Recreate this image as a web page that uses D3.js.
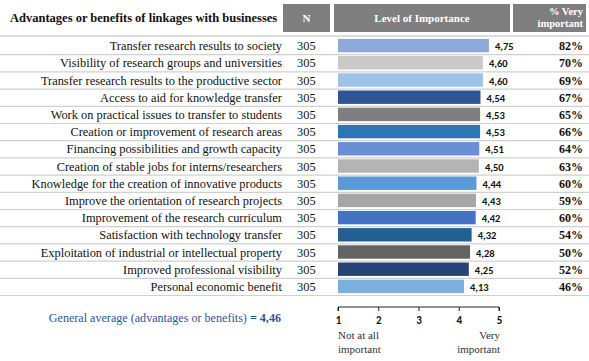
<!DOCTYPE html>
<html><head><meta charset="utf-8">
<script src="https://cdn.jsdelivr.net/npm/d3@7"></script>
<style>body{margin:0;background:#fff}svg{display:block}</style>
</head><body>
<svg id="c" width="589" height="361"></svg>
<script>
const categories = [
  "Transfer research results to society",
  "Visibility of research groups and universities",
  "Transfer research results to the productive sector",
  "Access to aid for knowledge transfer",
  "Work on practical issues to transfer to students",
  "Creation or improvement of research areas",
  "Financing possibilities and growth capacity",
  "Creation of stable jobs for interns/researchers",
  "Knowledge for the creation of innovative products",
  "Improve the orientation of research projects",
  "Improvement of the research curriculum",
  "Satisfaction with technology transfer",
  "Exploitation of industrial or intellectual property",
  "Improved professional visibility",
  "Personal economic benefit"
];
const nValues = [305,305,305,305,305,305,305,305,305,305,305,305,305,305,305];
const importance = [4.75,4.60,4.60,4.54,4.53,4.53,4.51,4.50,4.44,4.43,4.42,4.32,4.28,4.25,4.13];
const pctVery = [82,70,69,67,65,66,64,63,60,59,60,54,50,52,46];
const barColors = ["#8eaadb","#c9c9c9","#9dc3e6","#2f5597","#7f7f7f","#2e75b6","#6a8fd4","#b4b4b4","#5b9bd5","#a6a6a6","#4472c4","#255e91","#636363","#264478","#7aafdf"];
const tickValues = [1,2,3,4,5];
const generalAverage = 4.46;

const svg = d3.select("#c");
const serif = "'Liberation Serif','Times New Roman',serif";
const sans = "Carlito,'Liberation Sans',Arial,sans-serif";
const fmt = v => d3.format(".2f")(v).replace(".", ",");

const x = d3.scaleLinear().domain([1,5]).range([338,499]);
const y = d3.scaleBand().domain(d3.range(categories.length)).range([37,295]).paddingInner(0.22).paddingOuter(0.11);
const rowY = d3.scaleBand().domain(d3.range(categories.length)).range([37,295]);

// header
svg.append("text").attr("x",10).attr("y",22).attr("font-family",serif).attr("font-weight","bold")
  .attr("font-size",12.5).attr("fill","#111").text("Advantages or benefits of linkages with businesses");
const hdr = [{x0:283,x1:330,t:["N"]},{x0:334,x1:510,t:["Level of Importance"]},{x0:513,x1:586,t:["% Very","important"]}];
hdr.forEach(h=>{
  svg.append("rect").attr("x",h.x0).attr("y",4).attr("width",h.x1-h.x0).attr("height",28).attr("fill","#7f7f7f");
  if(h.t.length===1){
    svg.append("text").attr("x",(h.x0+h.x1)/2).attr("y",22).attr("text-anchor","middle").attr("font-family",serif)
      .attr("font-weight","bold").attr("font-size",11).attr("fill","#fff").text(h.t[0]);
  } else {
    h.t.forEach((s,i)=>svg.append("text").attr("x",h.x1-3).attr("y",15+i*12).attr("text-anchor","end").attr("font-family",serif)
      .attr("font-weight","bold").attr("font-size",10.5).attr("fill","#fff").text(s));
  }
});
svg.append("line").attr("x1",0).attr("x2",589).attr("y1",36).attr("y2",36).attr("stroke","#bbb").attr("stroke-width",1);

// row lines
svg.selectAll("line.row").data(d3.range(categories.length)).join("line").attr("class","row")
  .attr("x1",0).attr("x2",589).attr("y1",i=>rowY(i)+rowY.bandwidth()+0.5).attr("y2",i=>rowY(i)+rowY.bandwidth()+0.5)
  .attr("stroke","#d0d0d0").attr("stroke-width",1.2);

// labels
svg.selectAll("text.cat").data(categories).join("text").attr("class","cat")
  .attr("x",282).attr("y",(d,i)=>rowY(i)+rowY.bandwidth()/2+4.5).attr("text-anchor","end")
  .attr("font-family",serif).attr("font-size",12.4).attr("fill","#111").text(d=>d);
svg.selectAll("text.n").data(nValues).join("text").attr("class","n")
  .attr("x",297).attr("y",(d,i)=>rowY(i)+rowY.bandwidth()/2+4.5)
  .attr("font-family",serif).attr("font-size",12.4).attr("fill","#111").text(d=>d);

// bars
svg.selectAll("rect.bar").data(importance).join("rect").attr("class","bar")
  .attr("x",x(1)).attr("y",(d,i)=>y(i)).attr("width",d=>x(d)-x(1)).attr("height",y.bandwidth())
  .attr("fill",(d,i)=>barColors[i]);
svg.selectAll("text.val").data(importance).join("text").attr("class","val")
  .attr("x",d=>x(d)+6).attr("y",(d,i)=>rowY(i)+rowY.bandwidth()/2+4.5)
  .attr("font-family",sans).attr("font-weight","bold").attr("font-size",10.5).attr("fill","#111").text(d=>fmt(d));
svg.selectAll("text.pct").data(pctVery).join("text").attr("class","pct")
  .attr("x",583).attr("y",(d,i)=>rowY(i)+rowY.bandwidth()/2+4.5).attr("text-anchor","end")
  .attr("font-family",serif).attr("font-weight","bold").attr("font-size",12).attr("fill","#111").text(d=>d+"%");

// axis
const ax = svg.append("g").attr("transform","translate(0,307)")
  .call(d3.axisBottom(x).tickValues(tickValues).tickSize(4).tickPadding(5).tickFormat(d3.format("d")));
ax.select(".domain").attr("stroke","#222").attr("d",`M${x(1)},4V0H${x(5)}V4`);
ax.selectAll(".tick line").attr("stroke","#222");
ax.selectAll(".tick text").attr("font-family",sans).attr("font-weight","bold").attr("font-size",11).attr("fill","#111");
[["Not at all",339],["important",353]].forEach(([t,yy])=>svg.append("text").attr("x",x(1)).attr("y",yy)
  .attr("font-family",serif).attr("font-size",11).attr("fill","#333").text(t));
[["Very",339],["important",353]].forEach(([t,yy])=>svg.append("text").attr("x",x(5)+1).attr("y",yy).attr("text-anchor","end")
  .attr("font-family",serif).attr("font-size",11).attr("fill","#333").text(t));

// general average
const ga = svg.append("text").attr("x",281).attr("y",322).attr("text-anchor","end").attr("font-family",serif)
  .attr("font-size",12.1).attr("fill","#2f5597");
ga.append("tspan").text("General average (advantages or benefits) ");
ga.append("tspan").attr("font-weight","bold").text("= " + fmt(generalAverage));
</script>
</body></html>
